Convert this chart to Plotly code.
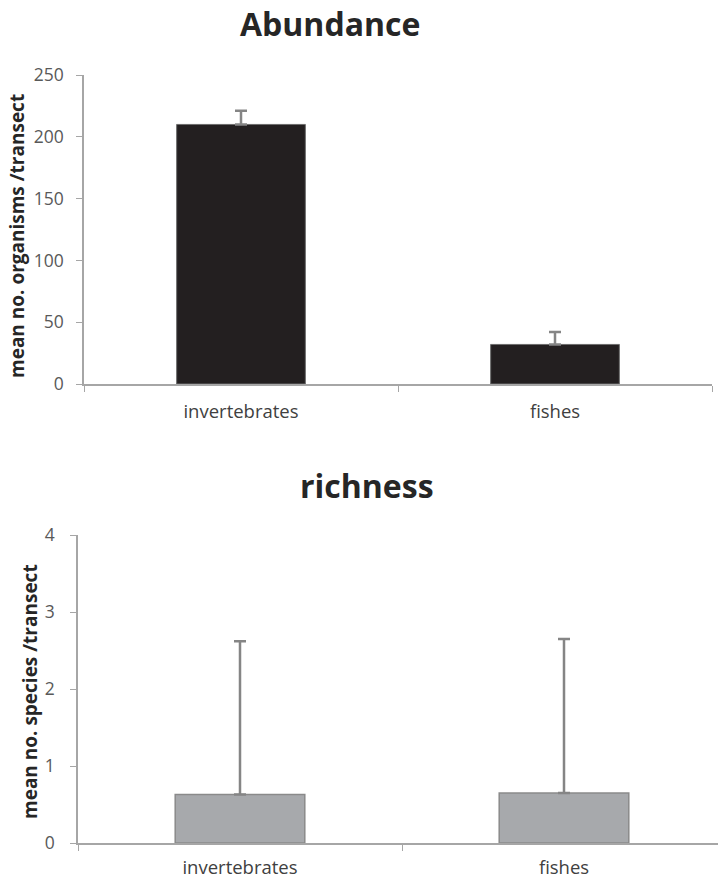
import plotly.graph_objects as go

categories = ["invertebrates", "fishes"]
abundance = [210, 32]
abundance_err = [11, 10]
richness = [0.63, 0.65]
richness_err = [1.99, 2.0]
abund_ticks = [0, 50, 100, 150, 200, 250]
rich_ticks = [0, 1, 2, 3, 4]

W, H = 718, 880
FONT = "Open Sans"
AXIS_COL = "#a6a6a6"
TICK_COL = "#595959"

fig = go.Figure()

fig.add_trace(go.Bar(
    x=categories, y=abundance, width=0.41,
    marker=dict(color="#231f20", line=dict(color="#6d6d6d", width=1)),
    error_y=dict(type="data", array=abundance_err, arrayminus=[0, 0], symmetric=False,
                 color="#858585", thickness=2.5, width=6),
    xaxis="x", yaxis="y", showlegend=False,
))
fig.add_trace(go.Bar(
    x=categories, y=richness, width=0.4,
    marker=dict(color="#a7a9ac", line=dict(color="#8a8a8a", width=1.5)),
    error_y=dict(type="data", array=richness_err, arrayminus=[0, 0], symmetric=False,
                 color="#858585", thickness=2.5, width=6),
    xaxis="x2", yaxis="y2", showlegend=False,
))

common_x = dict(type="category", showline=True, linecolor=AXIS_COL, linewidth=1.5,
                ticks="outside", tickson="boundaries", ticklen=6, tickcolor=AXIS_COL,
                tickfont=dict(family=FONT, size=18.5, color="#404040"),
                showgrid=False, zeroline=False, automargin=False)
common_y = dict(showline=True, linecolor=AXIS_COL, linewidth=1.5, ticks="outside",
                ticklen=6, tickcolor=AXIS_COL, showgrid=False, zeroline=False,
                automargin=False,
                tickfont=dict(family=FONT, size=17.5, color=TICK_COL))

title_font = dict(family=FONT, size=32, color="#262626")
ytitle_font = dict(family=FONT, size=19, color="#262626")

fig.update_layout(
    width=W, height=H, margin=dict(l=0, r=0, t=0, b=0, autoexpand=False),
    paper_bgcolor="white", plot_bgcolor="white",
    xaxis=dict(common_x, domain=[84 / W, 712 / W], range=[-0.5, 1.5], anchor="y",
               ticklabelstandoff=10),
    yaxis=dict(common_y, domain=[1 - 384 / H, 1 - 75 / H], range=[0, 250],
               tickvals=abund_ticks, anchor="x", ticklabelstandoff=9),
    xaxis2=dict(common_x, domain=[78 / W, 1.0], range=[-0.5, -0.5 + 640 / 324], anchor="y2",
                ticklabelstandoff=7),
    yaxis2=dict(common_y, domain=[1 - 843 / H, 1 - 535 / H], range=[0, 4],
                tickvals=rich_ticks, anchor="x2", ticklabelstandoff=12),
    annotations=[
        dict(text="<b>Abundance</b>", x=330 / W, y=1 - 24 / H, xref="paper", yref="paper",
             xanchor="center", yanchor="middle", showarrow=False, font=title_font),
        dict(text="<b>richness</b>", x=367 / W, y=1 - 485 / H, xref="paper", yref="paper",
             xanchor="center", yanchor="middle", showarrow=False, font=title_font),
        dict(text="<b>mean no. organisms /transect</b>", x=17 / W, y=1 - 236 / H,
             xref="paper", yref="paper", xanchor="center", yanchor="middle",
             textangle=-90, showarrow=False, font=ytitle_font),
        dict(text="<b>mean no. species /transect</b>", x=30 / W, y=1 - 692 / H,
             xref="paper", yref="paper", xanchor="center", yanchor="middle",
             textangle=-90, showarrow=False, font=ytitle_font),
    ],
)

fig.write_html("out.html", config={"displayModeBar": False},
               post_script="document.body.style.margin='0px';")
